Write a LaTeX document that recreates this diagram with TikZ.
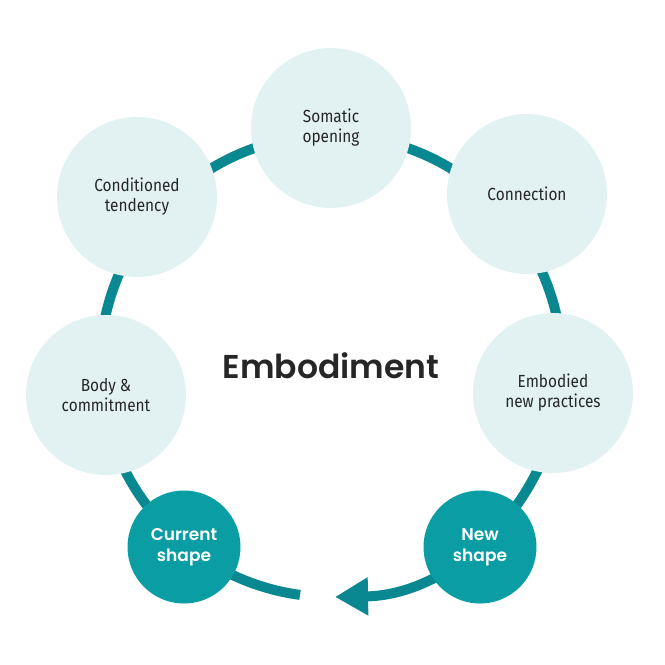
\documentclass[tikz,border=0pt]{standalone}
\usepackage{fontspec}
\setmainfont{Fira Sans}[FakeStretch=0.88]
\newfontfamily\headfont{Poppins}[BoldFont={Poppins SemiBold}]
\usetikzlibrary{
		arrows.meta
	}
\definecolor{ringteal}{HTML}{0A8891}
\definecolor{keyteal}{HTML}{0A9DA4}
\definecolor{paleteal}{HTML}{E2F2F3}
\definecolor{ink}{HTML}{262626}
\tikzset{
		>={Triangle[length=33pt,width=36pt]},
		ring/.style={draw=ringteal,line width=10pt},
		stage/.style={circle,fill=paleteal,minimum size=160pt,inner sep=0pt,align=center,text=ink,font=\fontsize{17.5}{20}\selectfont},
		keystage/.style={circle,fill=keyteal,minimum size=113pt,inner sep=0pt,align=center,text=white,font=\headfont\bfseries\fontsize{17}{21}\selectfont}
	}

\begin{document}
\begin{tikzpicture}[x=1pt, y=-1pt] % (one unit = one pixel of the 665 px picture)
		\useasboundingbox (0,0) rectangle (665,665);
		\coordinate (hub) at (331,366);
		% the cycle, open at the bottom
		\draw[ring,->] ([shift={(97.7:231)}]hub) arc[start angle=97.7, end angle=449, radius=231];
		\node[stage] (soma) at (331,128) {Somatic\\opening};
		\node[stage] (conn) at (527,194) {Connection};
		\node[stage] (embo) at (553,393) {Embodied\\new practices};
		\node[stage] (body) at (106,395) {Body \&\\commitment};
		\node[stage] (cond) at (137,197) {Conditioned\\tendency};
		\node[keystage] (newsh) at (480,547) {New\\shape};
		\node[keystage] (cursh) at (184,547) {Current\\shape};
		\node[text=ink,font=\headfont\bfseries\fontsize{33}{40}\selectfont] (title) at (hub) {Embodiment};
	\end{tikzpicture}
\end{document}
